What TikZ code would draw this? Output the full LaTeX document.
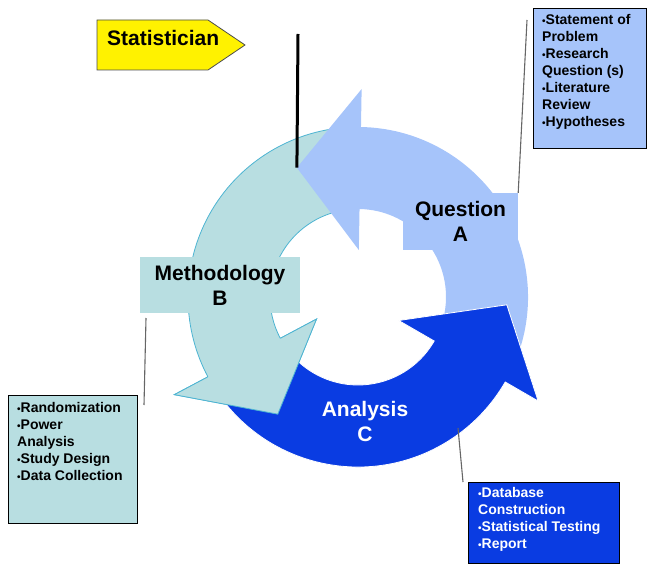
\documentclass[tikz,border=0pt]{standalone}
\usepackage{fontspec}
\setmainfont{Liberation Sans}
\usetikzlibrary{calc}
\definecolor{lblue}{HTML}{A6C4FA}
\definecolor{tealfill}{HTML}{B8DEE1}
\definecolor{dblue}{HTML}{0A3CE2}
\definecolor{tealline}{HTML}{4DB4D2}
\newcommand\ringpath[4]{($(O)+(#1:170)$) arc[start angle=#1,end angle=#2,radius=170pt] -- ($(O)+(#2:208)$) -- ($(O)+(#3:#4)$) -- ($(O)+(#2:47)$) -- ($(O)+(#2:88)$) arc[start angle=#2,end angle=#1,radius=88pt] -- cycle}
\newcommand\bul{{\fontsize{10}{10}\selectfont •}}
\begin{document}
\begin{tikzpicture}[x=1pt,y=1pt,
  lbl/.style={font=\fontsize{21}{25}\selectfont\bfseries, align=center, inner sep=0},
  boxtxt/.style={font=\fontsize{14}{17}\selectfont\bfseries, align=left, anchor=north west, inner sep=0},
  infobox/.style={draw=black, line width=0.8pt, anchor=north west, inner sep=0},
  leader/.style={draw=black!60, line width=1.1pt}]
\useasboundingbox (0,0) rectangle (647,-564);
\coordinate (O) at (358,-297);
% arrows
\filldraw[fill=tealfill, draw=tealline, line width=0.8pt] \ringpath{95}{208}{235.6}{142};
\fill[lblue] \ringpath{-28}{89}{115.3}{143};
\filldraw[fill=dblue, draw=white, line width=0.8pt] \ringpath{212}{330}{-3}{149};
\filldraw[fill=tealfill, draw=tealline, line width=0.8pt]
  ($(O)+(208:88)$) -- ($(O)+(208:47)$) -- ($(O)+(235.6:142)$) -- ($(O)+(208:208)$) -- ($(O)+(208:170)$);
\coordinate (qtip) at ($(O)+(115.3:143)$);
% labels
\node[fill=lblue, minimum width=115, minimum height=57, lbl] (qlab) at (460.5,-221.5) {Question\\A};
\node[fill=tealfill, minimum width=160, minimum height=56, lbl] (mlab) at (220,-285) {Methodology\\B};
\node[lbl, text=white] (alab) at (365,-421) {Analysis\\C};
% statistician
\draw[fill=yellow, draw=black!70, line width=0.8pt] (97,-20) -- (208,-20) -- (245,-45) -- (208,-70) -- (97,-70) -- cycle;
\node[lbl, anchor=base west] (stat) at (107,-46) {Statistician};
\coordinate (stattop) at (298,-34);
\draw[line width=3pt] (stattop) -- (qtip);
% info boxes
\node[infobox, fill=lblue, minimum width=113, minimum height=140] (qinfo) at (533,-8) {};
\node[boxtxt] (qtext) at (542,-14.5) {\bul Statement of\\Problem\\\bul Research\\Question (s)\\\bul Literature\\Review\\\bul Hypotheses};
\node[infobox, fill=tealfill, minimum width=129, minimum height=128] (minfo) at (8,-395) {};
\node[boxtxt] (mtext) at (17,-402.5) {\bul Randomization\\\bul Power\\Analysis\\\bul Study Design\\\bul Data Collection};
\node[infobox, fill=dblue, minimum width=151, minimum height=81] (ainfo) at (468,-482) {};
\node[boxtxt, text=white] (atext) at (478,-487.5) {\bul Database\\Construction\\\bul Statistical Testing\\\bul Report};
% leader lines
\coordinate (qlead) at (527,-20);
\draw[leader] (qlead) -- (qlab.north east);
\coordinate (mlead1) at (146,-318);
\coordinate (mlead2) at (144,-405);
\draw[leader] (mlead1) -- (mlead2);
\coordinate (alead1) at (458,-428);
\coordinate (alead2) at (463,-482);
\draw[leader] (alead1) -- (alead2);
\end{tikzpicture}
\end{document}
